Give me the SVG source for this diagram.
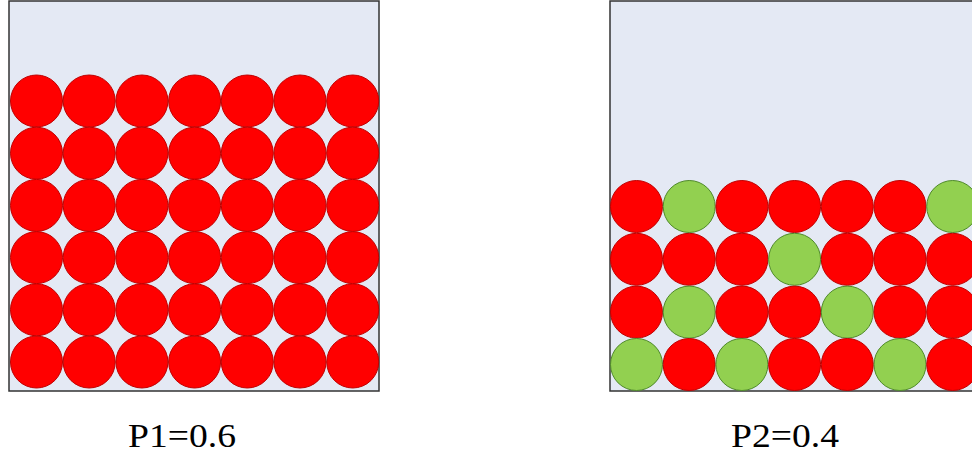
<svg xmlns="http://www.w3.org/2000/svg" width="972" height="458" viewBox="0 0 972 458">
<defs>
<style>
.box{fill:#e4e9f4;stroke:#333;stroke-width:1.5}
.r{fill:#ff0000;stroke:#c00000;stroke-width:1}
.g{fill:#92d050;stroke:#4f8a2a;stroke-width:1}
.lbl{font-family:"Times New Roman","Liberation Serif",Tinos,"DejaVu Serif",serif;font-size:34px;fill:#000;text-anchor:middle}
</style>
<circle id="R" r="26" class="r"/>
<circle id="G" r="26" class="g"/>
</defs>
<rect width="972" height="458" fill="#fff"/>
<g id="left">
<rect class="box" x="9" y="1" width="370" height="390"/>
<g id="left-balls">
<use href="#R" x="36.5" y="101"/><use href="#R" x="89.2" y="101"/><use href="#R" x="141.9" y="101"/><use href="#R" x="194.6" y="101"/><use href="#R" x="247.3" y="101"/><use href="#R" x="300" y="101"/><use href="#R" x="352.7" y="101"/>
<use href="#R" x="36.5" y="153.2"/><use href="#R" x="89.2" y="153.2"/><use href="#R" x="141.9" y="153.2"/><use href="#R" x="194.6" y="153.2"/><use href="#R" x="247.3" y="153.2"/><use href="#R" x="300" y="153.2"/><use href="#R" x="352.7" y="153.2"/>
<use href="#R" x="36.5" y="205.4"/><use href="#R" x="89.2" y="205.4"/><use href="#R" x="141.9" y="205.4"/><use href="#R" x="194.6" y="205.4"/><use href="#R" x="247.3" y="205.4"/><use href="#R" x="300" y="205.4"/><use href="#R" x="352.7" y="205.4"/>
<use href="#R" x="36.5" y="257.6"/><use href="#R" x="89.2" y="257.6"/><use href="#R" x="141.9" y="257.6"/><use href="#R" x="194.6" y="257.6"/><use href="#R" x="247.3" y="257.6"/><use href="#R" x="300" y="257.6"/><use href="#R" x="352.7" y="257.6"/>
<use href="#R" x="36.5" y="309.8"/><use href="#R" x="89.2" y="309.8"/><use href="#R" x="141.9" y="309.8"/><use href="#R" x="194.6" y="309.8"/><use href="#R" x="247.3" y="309.8"/><use href="#R" x="300" y="309.8"/><use href="#R" x="352.7" y="309.8"/>
<use href="#R" x="36.5" y="362"/><use href="#R" x="89.2" y="362"/><use href="#R" x="141.9" y="362"/><use href="#R" x="194.6" y="362"/><use href="#R" x="247.3" y="362"/><use href="#R" x="300" y="362"/><use href="#R" x="352.7" y="362"/>
</g>
<text class="lbl" x="182" y="447" textLength="108" lengthAdjust="spacingAndGlyphs">P1=0.6</text>
</g>
<g id="right">
<rect class="box" x="610" y="1" width="380" height="390"/>
<g id="right-balls">
<use href="#R" x="636.5" y="206.5"/><use href="#G" x="689.2" y="206.5"/><use href="#R" x="741.9" y="206.5"/><use href="#R" x="794.6" y="206.5"/><use href="#R" x="847.3" y="206.5"/><use href="#R" x="900" y="206.5"/><use href="#G" x="952.7" y="206.5"/>
<use href="#R" x="636.5" y="259.3"/><use href="#R" x="689.2" y="259.3"/><use href="#R" x="741.9" y="259.3"/><use href="#G" x="794.6" y="259.3"/><use href="#R" x="847.3" y="259.3"/><use href="#R" x="900" y="259.3"/><use href="#R" x="952.7" y="259.3"/>
<use href="#R" x="636.5" y="312.1"/><use href="#G" x="689.2" y="312.1"/><use href="#R" x="741.9" y="312.1"/><use href="#R" x="794.6" y="312.1"/><use href="#G" x="847.3" y="312.1"/><use href="#R" x="900" y="312.1"/><use href="#R" x="952.7" y="312.1"/>
<use href="#G" x="636.5" y="364.5"/><use href="#R" x="689.2" y="364.5"/><use href="#G" x="741.9" y="364.5"/><use href="#R" x="794.6" y="364.5"/><use href="#R" x="847.3" y="364.5"/><use href="#G" x="900" y="364.5"/><use href="#R" x="952.7" y="364.5"/>
</g>
<text class="lbl" x="785" y="447" textLength="108" lengthAdjust="spacingAndGlyphs">P2=0.4</text>
</g>
</svg>
